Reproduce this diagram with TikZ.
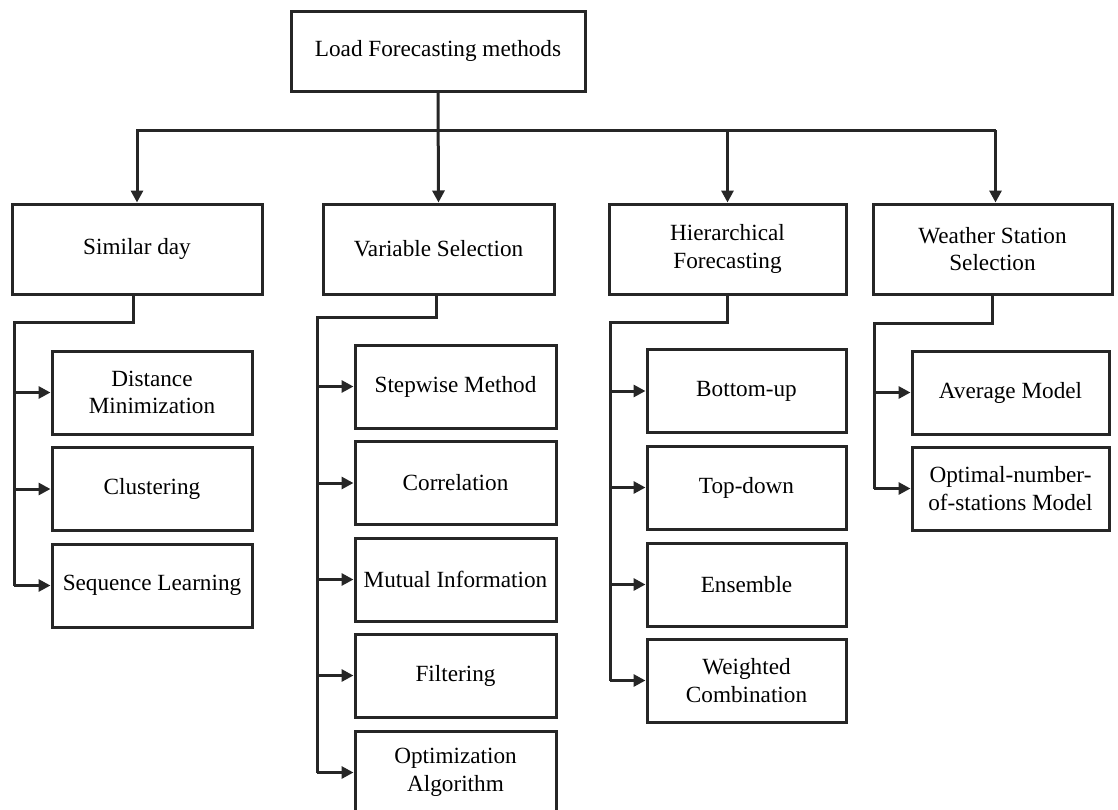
\documentclass[tikz,border=0pt]{standalone}
\usepackage{fontspec}
\setmainfont{Liberation Serif}
\usetikzlibrary{arrows.meta}
\definecolor{ln}{RGB}{38,38,38}
\tikzset{
  box/.style={draw=ln, line width=3pt, rectangle, align=center, inner sep=2pt,
    font=\fontsize{23.2}{27.5}\selectfont, text=black},
  link/.style={draw=ln, line width=3pt},
  arr/.style={link, -{Triangle[length=12pt,width=12pt]}},
}
\begin{document}
\begin{tikzpicture}[x=1pt,y=-1pt]
\useasboundingbox (0,0) rectangle (1118,809);
% root
\node[box, minimum width=294pt, minimum height=80pt] (root) at (438,51) {Load Forecasting methods};
% level 1
\node[box, minimum width=250pt, minimum height=90pt] (sim) at (137,249) {Similar day};
\node[box, minimum width=231pt, minimum height=90pt] (vs) at (438.5,249) {Variable Selection};
\node[box, minimum width=237pt, minimum height=90pt] (hf) at (727.5,249) {Hierarchical\\Forecasting};
\node[box, minimum width=239pt, minimum height=90pt] (ws) at (992.5,249) {Weather Station\\Selection};
% similar day children
\node[box, minimum width=200pt, minimum height=83pt] (s1) at (152,392.5) {Distance\\Minimization};
\node[box, minimum width=200pt, minimum height=83pt] (s2) at (152,489) {Clustering};
\node[box, minimum width=200pt, minimum height=83pt] (s3) at (152,585.5) {Sequence Learning};
% variable selection children
\node[box, minimum width=201pt, minimum height=83pt] (v1) at (455.5,386.5) {Stepwise Method};
\node[box, minimum width=201pt, minimum height=83pt] (v2) at (455.5,483) {Correlation};
\node[box, minimum width=201pt, minimum height=83pt] (v3) at (455.5,579.5) {Mutual Information};
\node[box, minimum width=201pt, minimum height=83pt] (v4) at (455.5,675.5) {Filtering};
\node[box, minimum width=201pt, minimum height=83pt] (v5) at (455.5,772.5) {Optimization\\Algorithm};
% hierarchical children
\node[box, minimum width=199pt, minimum height=83pt] (h1) at (746.5,391) {Bottom-up};
\node[box, minimum width=199pt, minimum height=83pt] (h2) at (746.5,487.5) {Top-down};
\node[box, minimum width=199pt, minimum height=83pt] (h3) at (746.5,584.5) {Ensemble};
\node[box, minimum width=199pt, minimum height=83pt] (h4) at (746.5,680.5) {Weighted\\Combination};
% weather station children
\node[box, minimum width=197pt, minimum height=83pt] (w1) at (1010.5,392.5) {Average Model};
\node[box, minimum width=197pt, minimum height=83pt] (w2) at (1010.5,488.5) {Optimal-number-\\of-stations Model};
% top bus
\coordinate (bus) at (438,130);
\draw[arr] (root.south) -- (vs.north);
\draw[arr] (bus) -| (sim.north);
\draw[arr] (bus) -| (hf.north);
\draw[arr] ([xshift=3pt]bus -| ws.north) -- ([xshift=3pt]ws.north);
\draw[link] (bus) -- ([xshift=3pt]bus -| ws.north);
% similar day tree
\coordinate (sj) at (14,322);
\draw[link] ([xshift=-4pt]sim.south) |- (sj) -- (sj |- s3.west);
\foreach \c in {s1,s2,s3} \draw[arr] (sj |- \c.west) -- (\c.west);
% variable selection tree
\coordinate (vj) at (317,317);
\draw[link] ([xshift=-2pt]vs.south) |- (vj) -- (vj |- v5.west);
\foreach \c in {v1,v2,v3,v4,v5} \draw[arr] (vj |- \c.west) -- (\c.west);
% hierarchical tree
\coordinate (hj) at (610,322);
\draw[link] (hf.south) |- (hj) -- (hj |- h4.west);
\foreach \c in {h1,h2,h3,h4} \draw[arr] (hj |- \c.west) -- (\c.west);
% weather station tree
\coordinate (wj) at (874,323);
\draw[link] (ws.south) |- (wj) -- (wj |- w2.west);
\foreach \c in {w1,w2} \draw[arr] (wj |- \c.west) -- (\c.west);
\end{tikzpicture}
\end{document}
